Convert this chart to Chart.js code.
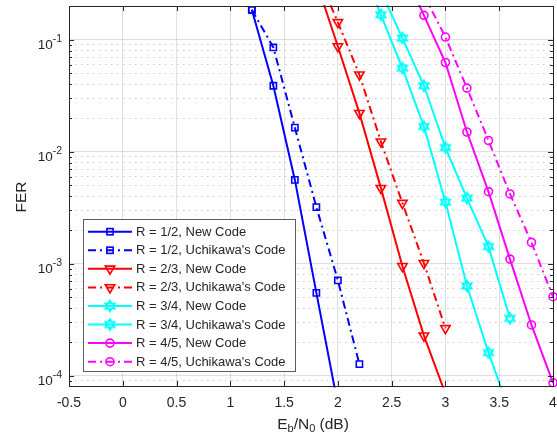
<!DOCTYPE html>
<html><head><meta charset="utf-8">
<script src="https://cdn.jsdelivr.net/npm/chart.js@4.4.1/dist/chart.umd.min.js"></script>
<style>html,body{margin:0;padding:0;background:#fff}</style>
</head><body>
<canvas id="c" width="557" height="443" style="width:557px;height:443px;display:block"></canvas>
<script>
// ---- data ----
const xMin = -0.5, xMax = 4, xStep = 0.5;
const yMin = 8.1e-5, yMax = 0.2;
const yDecades = [1e-4, 1e-3, 1e-2, 1e-1];
const yDecadeExponents = ['-4', '-3', '-2', '-1'];
const xTitleParts = ['E', 'b', '/N', '0', ' (dB)'];
const yTitle = 'FER';

const seriesLabels = [
  'R = 1/2, New Code', "R = 1/2, Uchikawa's Code",
  'R = 2/3, New Code', "R = 2/3, Uchikawa's Code",
  'R = 3/4, New Code', "R = 3/4, Uchikawa's Code",
  'R = 4/5, New Code', "R = 4/5, Uchikawa's Code"
];

const ebn0_r12_new  = [1.2, 1.4, 1.6, 1.8, 2.0];
const fer_r12_new   = [0.185, 0.0388, 0.0056, 5.5e-4, 5.5e-5];
const ebn0_r12_uchi = [1.2, 1.4, 1.6, 1.8, 2.0, 2.2];
const fer_r12_uchi  = [0.185, 0.0853, 0.0164, 0.0032, 7.1e-4, 1.27e-4];

const ebn0_r23_new  = [1.8, 2.0, 2.2, 2.4, 2.6, 2.8, 3.0];
const fer_r23_new   = [0.33, 0.087, 0.0221, 0.00473, 9.5e-4, 2.28e-4, 6.9e-5];
const ebn0_r23_uchi = [1.8, 2.0, 2.2, 2.4, 2.6, 2.8, 3.0];
const fer_r23_uchi  = [0.4, 0.143, 0.0487, 0.0123, 0.00348, 1.01e-3, 2.65e-4];

const ebn0_r34_new  = [2.2, 2.4, 2.6, 2.8, 3.0, 3.2, 3.4, 3.6];
const fer_r34_new   = [0.5, 0.167, 0.0558, 0.0168, 0.00355, 6.33e-4, 1.61e-4, 4.7e-5];
const ebn0_r34_uchi = [2.4, 2.6, 2.8, 3.0, 3.2, 3.4, 3.6];
const fer_r34_uchi  = [0.27, 0.1035, 0.0388, 0.0109, 0.00385, 1.42e-3, 3.26e-4];

const ebn0_r45_new  = [2.6, 2.8, 3.0, 3.2, 3.4, 3.6, 3.8, 4.0];
const fer_r45_new   = [0.43, 0.165, 0.0626, 0.015, 0.0044, 1.1e-3, 2.84e-4, 8.65e-5];
const ebn0_r45_uchi = [2.8, 3.0, 3.2, 3.4, 3.6, 3.8, 4.0];
const fer_r45_uchi  = [0.25, 0.1057, 0.037, 0.0126, 0.0042, 1.55e-3, 5.08e-4];

// ---- styling ----
const FONT = "'Liberation Sans', Arial, Helvetica, sans-serif";
const TXT = '#262626';
const DASHDOT = [8, 4, 2, 4];

function hexagram(color, r, lw) {
  const s = 2 * Math.ceil(r + lw) + 2;
  const c = document.createElement('canvas');
  c.width = s; c.height = s;
  const g = c.getContext('2d');
  g.translate(s / 2, s / 2);
  g.beginPath();
  for (let k = 0; k < 12; k++) {
    const a = -Math.PI / 2 + k * Math.PI / 6;
    const rad = (k % 2 === 0) ? r : r / Math.sqrt(3);
    g.lineTo(rad * Math.cos(a), rad * Math.sin(a));
  }
  g.closePath();
  g.strokeStyle = color; g.lineWidth = lw; g.lineJoin = 'miter';
  g.stroke();
  return c;
}
const hexCyan = hexagram('#00FFFF', 5, 2.2);

const styles = [
  {color: '#0000FF', dash: [], marker: 'rect', radius: 4.4, rot: 0},
  {color: '#0000FF', dash: DASHDOT, marker: 'rect', radius: 4.4, rot: 0},
  {color: '#FF0000', dash: [], marker: 'triangle', radius: 5.4, rot: 180},
  {color: '#FF0000', dash: DASHDOT, marker: 'triangle', radius: 5.4, rot: 180},
  {color: '#00FFFF', dash: [], marker: hexCyan, radius: 5, rot: 0},
  {color: '#00FFFF', dash: [], marker: hexCyan, radius: 5, rot: 0},
  {color: '#FF00FF', dash: [], marker: 'circle', radius: 4, rot: 0},
  {color: '#FF00FF', dash: DASHDOT, marker: 'circle', radius: 4, rot: 0}
];

const xs = [ebn0_r12_new, ebn0_r12_uchi, ebn0_r23_new, ebn0_r23_uchi, ebn0_r34_new, ebn0_r34_uchi, ebn0_r45_new, ebn0_r45_uchi];
const ys = [fer_r12_new, fer_r12_uchi, fer_r23_new, fer_r23_uchi, fer_r34_new, fer_r34_uchi, fer_r45_new, fer_r45_uchi];

const datasets = seriesLabels.map((lab, i) => ({
  label: lab,
  data: xs[i].map((x, j) => ({x: x, y: ys[i][j]})),
  borderColor: styles[i].color,
  borderWidth: 2,
  borderDash: styles[i].dash,
  pointStyle: styles[i].marker,
  pointRadius: styles[i].radius,
  pointRotation: styles[i].rot,
  pointBorderColor: styles[i].color,
  pointBackgroundColor: 'rgba(0,0,0,0)',
  pointBorderWidth: 1.6,
  tension: 0,
  fill: false,
  clip: {left: 0, top: 1, right: 8, bottom: 1.5}
}));

function isDecade(v) { const e = Math.log10(v); return Math.abs(e - Math.round(e)) < 1e-6; }
function isMinor(v) { const e = Math.floor(Math.log10(v) + 1e-9); const m = v / Math.pow(10, e); return Math.abs(m - Math.round(m)) < 1e-6 && !isDecade(v); }

function drawMarker(g, st, x, y) {
  g.save();
  g.setLineDash([]);
  g.strokeStyle = st.color; g.lineWidth = 1.6;
  if (st.marker === 'rect') {
    const h = st.radius * Math.SQRT1_2;
    g.strokeRect(x - h, y - h, 2 * h, 2 * h);
  } else if (st.marker === 'triangle') {
    const r = st.radius;
    g.beginPath();
    g.moveTo(x, y + r);
    g.lineTo(x - r * Math.sin(Math.PI / 3), y - r * 0.5);
    g.lineTo(x + r * Math.sin(Math.PI / 3), y - r * 0.5);
    g.closePath(); g.stroke();
  } else if (st.marker === 'circle') {
    g.beginPath(); g.arc(x, y, st.radius, 0, 2 * Math.PI); g.stroke();
  } else {
    g.drawImage(st.marker, x - st.marker.width / 2, y - st.marker.height / 2);
  }
  g.restore();
}

const decorPlugin = {
  id: 'decor',
  afterDraw(chart) {
    const g = chart.ctx;
    const a = chart.chartArea;
    const xs_ = chart.scales.x, ys_ = chart.scales.y;
    g.save();
    // inward tick marks
    g.strokeStyle = TXT; g.lineWidth = 1; g.setLineDash([]);
    g.beginPath();
    for (let v = xMin; v <= xMax + 1e-9; v += xStep) {
      const px = Math.round(xs_.getPixelForValue(v)) + 0.5;
      g.moveTo(px, a.bottom); g.lineTo(px, a.bottom - 5);
      g.moveTo(px, a.top); g.lineTo(px, a.top + 5);
    }
    ys_.ticks.forEach(t => {
      const v = t.value;
      let len = 0;
      if (isDecade(v)) len = 5; else if (isMinor(v)) len = 3;
      if (!len) return;
      const py = Math.round(ys_.getPixelForValue(v)) + 0.5;
      g.moveTo(a.left, py); g.lineTo(a.left + len, py);
      g.moveTo(a.right, py); g.lineTo(a.right - len, py);
    });
    g.stroke();
    // box
    g.strokeRect(Math.round(a.left) + 0.5, Math.round(a.top) + 0.5, Math.round(a.right - a.left), Math.round(a.bottom - a.top));

    // y tick labels 10^n
    g.fillStyle = TXT;
    g.textBaseline = 'alphabetic';
    yDecades.forEach((v, i) => {
      const py = ys_.getPixelForValue(v);
      g.font = '10.5px ' + FONT;
      g.textAlign = 'right';
      const supW = g.measureText(yDecadeExponents[i]).width;
      g.fillText(yDecadeExponents[i], a.left - 7, py + 2);
      g.font = '13.5px ' + FONT;
      g.fillText('10', a.left - 7 - supW, py + 9);
    });

    // x title with subscripts
    const mainF = '15.5px ' + FONT, subF = '11px ' + FONT;
    const isSub = [false, true, false, true, false];
    let total = 0;
    xTitleParts.forEach((p, i) => { g.font = isSub[i] ? subF : mainF; total += g.measureText(p).width; });
    let cx = (a.left + a.right) / 2 + 2 - total / 2;
    g.textAlign = 'left';
    xTitleParts.forEach((p, i) => {
      g.font = isSub[i] ? subF : mainF;
      g.fillText(p, cx, isSub[i] ? 432 : 428.5);
      cx += g.measureText(p).width;
    });

    // y title
    g.save();
    g.translate(25.5, (a.top + a.bottom) / 2 + 1);
    g.rotate(-Math.PI / 2);
    g.font = '15.5px ' + FONT;
    g.textAlign = 'center';
    g.fillText(yTitle, 0, 0);
    g.restore();

    // legend
    const lx = 83.5, ly = 219.5, lw = 212, lh = 152;
    g.fillStyle = '#FFFFFF';
    g.fillRect(lx, ly, lw, lh);
    g.strokeStyle = 'rgba(38,38,38,0.75)'; g.lineWidth = 1;
    g.strokeRect(lx, ly, lw, lh);
    g.font = '13px ' + FONT;
    g.textBaseline = 'middle';
    g.textAlign = 'left';
    seriesLabels.forEach((lab, i) => {
      const ry = 231.7 + i * 18.57;
      const st = styles[i];
      g.strokeStyle = st.color; g.lineWidth = 2;
      g.setLineDash(st.dash);
      g.beginPath(); g.moveTo(88, ry); g.lineTo(132, ry); g.stroke();
      g.setLineDash([]);
      drawMarker(g, st, 110, ry);
      g.fillStyle = TXT;
      g.fillText(lab, 136, ry + 0.5);
    });
    g.restore();
  }
};

new Chart(document.getElementById('c').getContext('2d'), {
  type: 'line',
  data: {datasets: datasets},
  options: {
    responsive: false,
    animation: false,
    devicePixelRatio: 1,
    layout: {autoPadding: false, padding: {left: 0, right: 4, top: 6, bottom: 0}},
    plugins: {legend: {display: false}, tooltip: {enabled: false}},
    scales: {
      x: {
        type: 'linear', min: xMin, max: xMax,
        ticks: {
          stepSize: xStep, color: TXT, font: {family: FONT, size: 14}, padding: 9, maxRotation: 0, autoSkip: false,
          callback: v => String(Math.round(v * 10) / 10)
        },
        grid: {color: 'rgba(0,0,0,0.12)', lineWidth: 1, drawTicks: false},
        border: {display: false},
        afterFit: s => { s.height = 57; s.paddingLeft = 0; s.paddingRight = 0; }
      },
      y: {
        type: 'logarithmic', min: yMin, max: yMax,
        ticks: {display: false, autoSkip: false},
        grid: {
          drawTicks: false,
          lineWidth: 1,
          color: c => {
            const v = c.tick && c.tick.value;
            if (!v) return 'rgba(0,0,0,0)';
            if (isDecade(v)) return 'rgba(0,0,0,0.12)';
            if (isMinor(v)) return 'rgba(0,0,0,0.2)';
            return 'rgba(0,0,0,0)';
          }
        },
        border: {
          display: false,
          dash: c => (c.tick && !isDecade(c.tick.value)) ? [1.5, 4.5] : []
        },
        afterFit: s => { s.width = 69; s.paddingTop = 0; s.paddingBottom = 0; }
      }
    }
  },
  plugins: [decorPlugin]
});
</script>
</body></html>
